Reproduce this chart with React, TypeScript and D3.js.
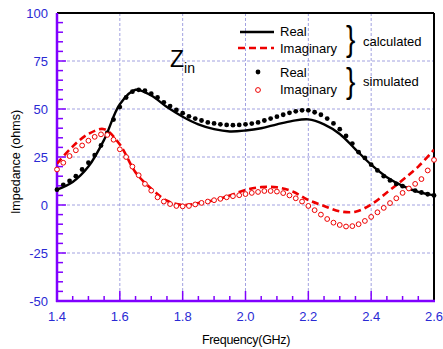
import * as d3 from "d3";

// Simulated data (every 0.02 GHz)
const simFreq = [
  1.4, 1.42, 1.44, 1.46, 1.48, 1.5, 1.52, 1.54, 1.56, 1.58, 1.6, 1.62, 1.64, 1.66, 1.68, 1.7,
  1.72, 1.74, 1.76, 1.78, 1.8, 1.82, 1.84, 1.86, 1.88, 1.9, 1.92, 1.94, 1.96, 1.98, 2.0, 2.02,
  2.04, 2.06, 2.08, 2.1, 2.12, 2.14, 2.16, 2.18, 2.2, 2.22, 2.24, 2.26, 2.28, 2.3, 2.32, 2.34,
  2.36, 2.38, 2.4, 2.42, 2.44, 2.46, 2.48, 2.5, 2.52, 2.54, 2.56, 2.58, 2.6,
];
const simReal = [
  8, 10.5, 12.5, 15, 18.5, 22, 26, 31, 37.5, 44.5, 51, 56, 59, 60, 59.5, 58,
  56, 53.5, 51.5, 49.5, 47.8, 46.2, 45, 44, 43, 42.5, 42, 41.7, 41.6, 41.7, 42, 42.4,
  43, 44, 45, 46, 47, 48, 48.8, 49.3, 49.3, 48.3, 47, 45, 42.5, 39.5, 36, 32,
  27.5, 24.5, 21, 18, 15, 12.8, 11, 9.8, 8.6, 7.5, 6.5, 5.6, 5,
];
const simImag = [
  18.5, 22, 25.5, 28.5, 31, 33.5, 35.5, 36.8, 36.5, 34, 29, 25, 20, 15.5, 11, 7.5,
  4, 1.8, 0.5, -0.5, -0.7, -0.5, 0.3, 1.1, 1.8, 2.5, 3.2, 4, 4.6, 5.1, 5.7, 6.3,
  6.8, 7.3, 7.3, 7, 6.2, 5, 3.5, 1.8, -0.5, -2.7, -5, -7.3, -9.2, -10.4, -11.2, -11,
  -10, -8.3, -6.2, -3.8, -1.5, 1, 3.5, 6.3, 8.6, 11, 13.5, 18, 23.5,
];

// Calculated data (every 0.05 GHz)
const calcFreq = [
  1.4, 1.45, 1.5, 1.55, 1.6, 1.65, 1.7, 1.75, 1.8, 1.85, 1.9, 1.95, 2.0,
  2.05, 2.1, 2.15, 2.2, 2.25, 2.3, 2.35, 2.4, 2.45, 2.5, 2.55, 2.6,
];
const calcReal = [
  8, 12, 20, 34, 52.5, 60, 57, 51, 46, 42, 39.5, 38.3, 38.8,
  40, 42, 43.8, 44.6, 42, 37, 29, 21, 14.5, 10, 6.8, 5,
];
const calcImag = [
  21.5, 30.5, 37, 39.5, 31.5, 17, 8.5, 2.2, 0, 1, 2.5, 5, 7.8,
  9.3, 9.2, 7, 2.6, -0.5, -3.3, -3.5, 0.3, 6.5, 13, 20, 28.8,
];

const xTicks = [1.4, 1.6, 1.8, 2.0, 2.2, 2.4, 2.6];
const yTicks = [-50, -25, 0, 25, 50, 75, 100];

const W = 443;
const H = 349;
const L = 57, R = 434, T = 13, B = 301;
const PURPLE = "#8000ff";
const BLUE = "#2a2ad4";
const RED = "#ee0000";
const FONT = "Arial, 'Liberation Sans', sans-serif";

export default function App() {
  const x = d3.scaleLinear().domain([1.4, 2.6]).range([L, R]);
  const y = d3.scaleLinear().domain([-50, 100]).range([B, T]);

  const line = d3
    .line<[number, number]>()
    .x((d) => x(d[0]))
    .y((d) => y(d[1]))
    .curve(d3.curveCatmullRom.alpha(0.5));

  const realPts = calcFreq.map((f, i) => [f, calcReal[i]] as [number, number]);
  const imagPts = calcFreq.map((f, i) => [f, calcImag[i]] as [number, number]);

  const xMinor = d3.range(1.4, 2.6001, 0.05);
  const yMinor = d3.range(-50, 100.001, 5);

  return (
    <svg
      width={W}
      height={H}
      style={{ position: "absolute", left: 0, top: 0, background: "#fff" }}
      fontFamily={FONT}
    >
      <defs>
        <clipPath id="plot">
          <rect x={L} y={T} width={R - L} height={B - T} />
        </clipPath>
      </defs>

      {/* grid */}
      {xTicks.slice(1, -1).map((t) => (
        <line key={"gx" + t} x1={x(t)} x2={x(t)} y1={T} y2={B}
          stroke="#8a8ad8" strokeWidth={0.8} strokeDasharray="3,2" />
      ))}
      {yTicks.slice(1, -1).map((t) => (
        <line key={"gy" + t} x1={L} x2={R} y1={y(t)} y2={y(t)}
          stroke="#8a8ad8" strokeWidth={0.8} strokeDasharray="3,2" />
      ))}

      {/* minor/major ticks */}
      {xMinor.map((t, i) => (
        <line key={"xt" + i} x1={x(t)} x2={x(t)} y1={B} y2={B - (i % 4 === 0 ? 10 : 5)}
          stroke={PURPLE} strokeWidth={1.5} />
      ))}
      {yMinor.map((t, i) => (
        <line key={"yt" + i} x1={L} x2={L + (i % 5 === 0 ? 9 : 6)} y1={y(t)} y2={y(t)}
          stroke={PURPLE} strokeWidth={1.5} />
      ))}

      {/* frame */}
      <line x1={L} x2={R} y1={T} y2={T} stroke="#000" strokeWidth={2} />
      <line x1={R} x2={R} y1={T} y2={B} stroke="#000" strokeWidth={2} />
      <line x1={L} x2={L} y1={T} y2={B + 1} stroke={PURPLE} strokeWidth={2.5} />
      <line x1={L - 1} x2={R + 1} y1={B} y2={B} stroke={PURPLE} strokeWidth={2.5} />

      {/* data */}
      <g clipPath="url(#plot)">
        <path d={line(imagPts) ?? ""} fill="none" stroke={RED} strokeWidth={2.6} strokeDasharray="7,4" />
        <path d={line(realPts) ?? ""} fill="none" stroke="#000" strokeWidth={2.4} />
      </g>
      {simFreq.map((f, i) => (
        <circle key={"sr" + i} cx={x(f)} cy={y(simReal[i])} r={2.4} fill="#000" />
      ))}
      {simFreq.map((f, i) => (
        <circle key={"si" + i} cx={x(f)} cy={y(simImag[i])} r={2.4} fill="#fff" stroke={RED} strokeWidth={1} />
      ))}

      {/* tick labels */}
      {xTicks.map((t) => (
        <text key={"xl" + t} x={x(t)} y={B + 20} textAnchor="middle" fontSize={13} fill={BLUE}>
          {t.toFixed(1)}
        </text>
      ))}
      {yTicks.map((t) => (
        <text key={"yl" + t} x={L - 9} y={y(t)} dy="0.35em" textAnchor="end" fontSize={13} fill={BLUE}>
          {t}
        </text>
      ))}

      {/* axis titles */}
      <text x={246} y={344} textAnchor="middle" fontSize={12.5} fill="#000" letterSpacing={-0.3}>
        Frequency(GHz)
      </text>
      <text transform={`translate(20,${(T + B) / 2 + 5}) rotate(-90)`} textAnchor="middle" fontSize={12.5} fill="#000">
        Impedance (ohms)
      </text>

      {/* Zin label */}
      <text x={170} y={67} fontSize={23} fill="#000">
        Z<tspan fontSize={14} dy={6}>in</tspan>
      </text>

      {/* legend */}
      <line x1={240} x2={274} y1={32} y2={32} stroke="#000" strokeWidth={2.4} />
      <text x={280} y={36} fontSize={13}>Real</text>
      <line x1={238} x2={274} y1={48} y2={48} stroke={RED} strokeWidth={2.6} strokeDasharray="7,4" />
      <text x={280} y={53} fontSize={13}>Imaginary</text>
      <text transform="translate(346,51) scale(0.8,1)" fontSize={35} fontWeight={300}>{"}"}</text>
      <text x={363} y={46} fontSize={13}>calculated</text>

      <circle cx={258} cy={72} r={2.4} fill="#000" />
      <text x={280} y={77} fontSize={13}>Real</text>
      <circle cx={258} cy={90} r={2.4} fill="#fff" stroke={RED} strokeWidth={1} />
      <text x={280} y={94} fontSize={13}>Imaginary</text>
      <text transform="translate(346,93) scale(0.8,1)" fontSize={35} fontWeight={300}>{"}"}</text>
      <text x={363} y={86} fontSize={13}>simulated</text>
    </svg>
  );
}
